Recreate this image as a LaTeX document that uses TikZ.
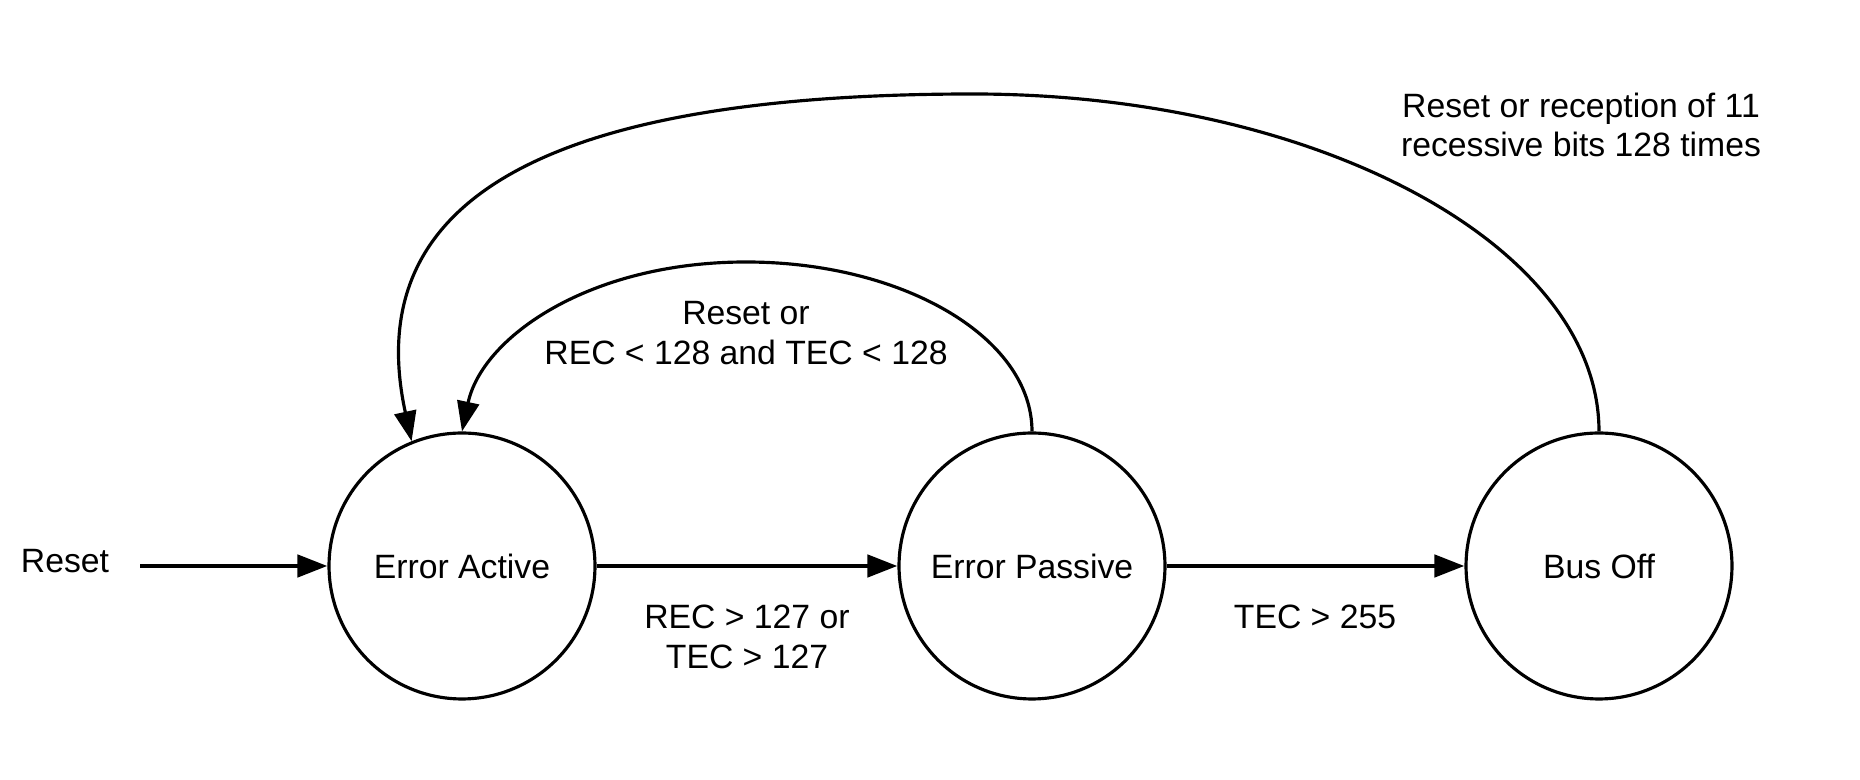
\documentclass[tikz,border=0pt]{standalone}
\usepackage{fontspec}
\setmainfont{Liberation Sans}
\usetikzlibrary{arrows.meta}

\begin{document}
\begin{tikzpicture}[x=0.02cm,y=0.02cm,font=\fontsize{19.2}{22.5}\selectfont,
  state/.style={draw,circle,line width=1.8pt,minimum size=5.32cm,inner sep=0pt},
  trans/.style={-{Triangle[length=0.6cm,width=0.44cm]}}]
\useasboundingbox (0,0) rectangle (1860,780);
\node[state] (ea) at (462,214) {Error Active};
\node[state] (ep) at (1032,214) {Error Passive};
\node[state] (bo) at (1599,214) {Bus Off};
\node (rst) at (65,219) {Reset};
\coordinate (rststart) at (140,214);
\coordinate (innertop) at (746,518);
\coordinate (outertop) at (973,686);
\draw[trans,line width=2.6pt] (rststart) -- (ea);
\draw[trans,line width=2.6pt] (ea) -- (ep);
\draw[trans,line width=2.6pt] (ep) -- (bo);
\draw[trans,line width=1.8pt] (ep.north) .. controls +(0,94) and +(157,0) .. (innertop)
  .. controls +(-157,0) and +(20,94) .. (ea.north);
\draw[trans,line width=1.8pt] (bo.north) .. controls +(0,186) and +(344,0) .. (outertop)
  .. controls +(-450,0) and +(-50,230) .. (ea.112);
\node[align=center] (l1) at (747,143) {REC > 127 or\\TEC > 127};
\node (l2) at (1315,163) {TEC > 255};
\node[align=center] (l3) at (746,447) {Reset or\\REC < 128 and TEC < 128};
\node[align=center] (l4) at (1581,655) {Reset or reception of 11\\recessive bits 128 times};
\end{tikzpicture}
\end{document}
